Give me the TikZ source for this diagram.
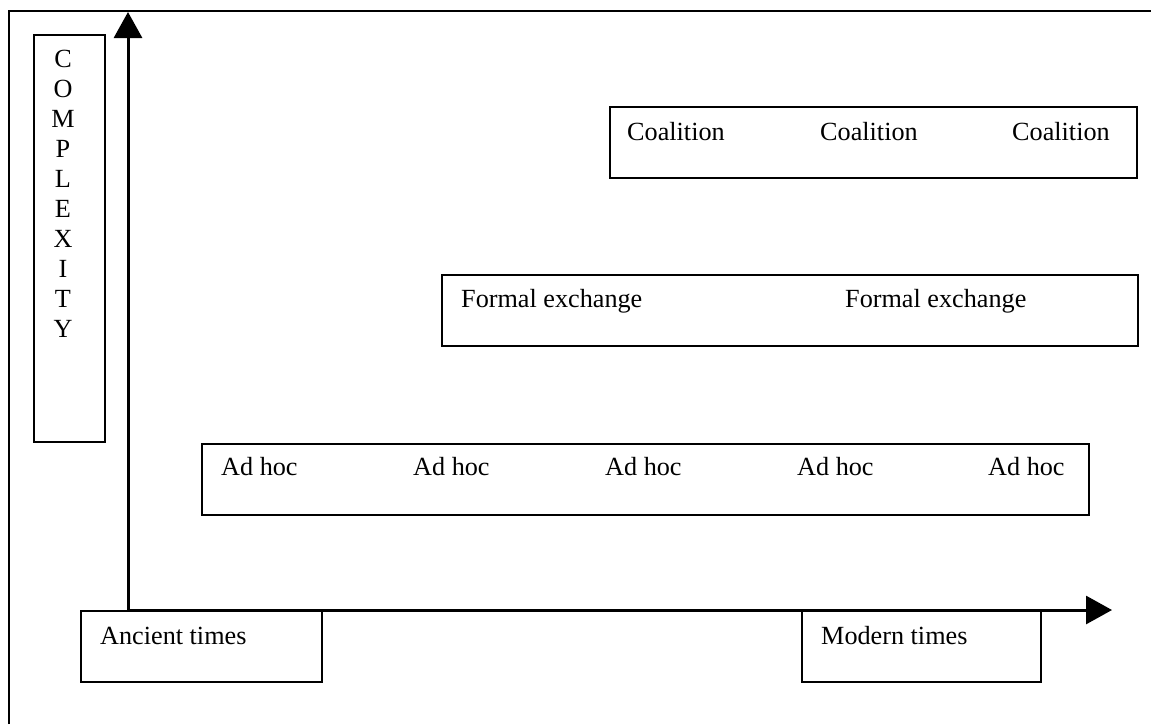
\documentclass[tikz,border=0pt]{standalone}
\usepackage{fontspec}
\setmainfont{Liberation Serif}
\usetikzlibrary{arrows.meta}

\tikzset{
  box/.style={draw,line width=1.5pt,anchor=north west,inner sep=0pt},
  lbl/.style={anchor=base west,inner sep=0pt,font=\fontsize{26.2}{30}\selectfont},
  letter/.style={anchor=base,inner sep=0pt,font=\fontsize{26.2}{30}\selectfont},
  axis/.style={line width=3pt,-{Triangle[length=26pt,width=28pt]}}
}

\begin{document}
\begin{tikzpicture}[x=1pt,y=-1pt]
  \useasboundingbox (0,0) rectangle (1151,724);
  \draw[line width=1.5pt] (9,724) -- (9,11) -- (1151,11);

  % boxes
  \node[box,minimum width=71pt,minimum height=407pt] (cplx) at (33,34) {};
  \node[box,minimum width=527pt,minimum height=71pt] (coal) at (609,106) {};
  \node[box,minimum width=696pt,minimum height=71pt] (formal) at (441,274) {};
  \node[box,minimum width=887pt,minimum height=71pt] (adhoc) at (201,443) {};
  \node[box,minimum width=241pt,minimum height=71pt] (ancient) at (80,610) {};
  \node[box,minimum width=239pt,minimum height=71pt] (modern) at (801,610) {};

  % axes
  \coordinate (o) at (128,610);
  \coordinate (ytip) at (128,12);
  \coordinate (xtip) at (1112,610);
  \draw[axis] (o) -- (ytip);
  \draw[axis] (o) -- (xtip);

  % labels
  \foreach \l [count=\i] in {C,O,M,P,L,E,X,I,T,Y}
    \node[letter] (c\i) at (63,{67+30.1*(\i-1)}) {\l};
  \foreach \x [count=\i] in {627,820,1012}
    \node[lbl] (coal\i) at (\x,140) {Coalition};
  \foreach \x [count=\i] in {461,845}
    \node[lbl] (formal\i) at (\x,307) {Formal exchange};
  \foreach \x [count=\i] in {221,413,605,797,988}
    \node[lbl] (adhoc\i) at (\x,475) {Ad hoc};
  \node[lbl] (ancienttxt) at (100,644) {Ancient times};
  \node[lbl] (moderntxt) at (821,644) {Modern times};
\end{tikzpicture}
\end{document}
